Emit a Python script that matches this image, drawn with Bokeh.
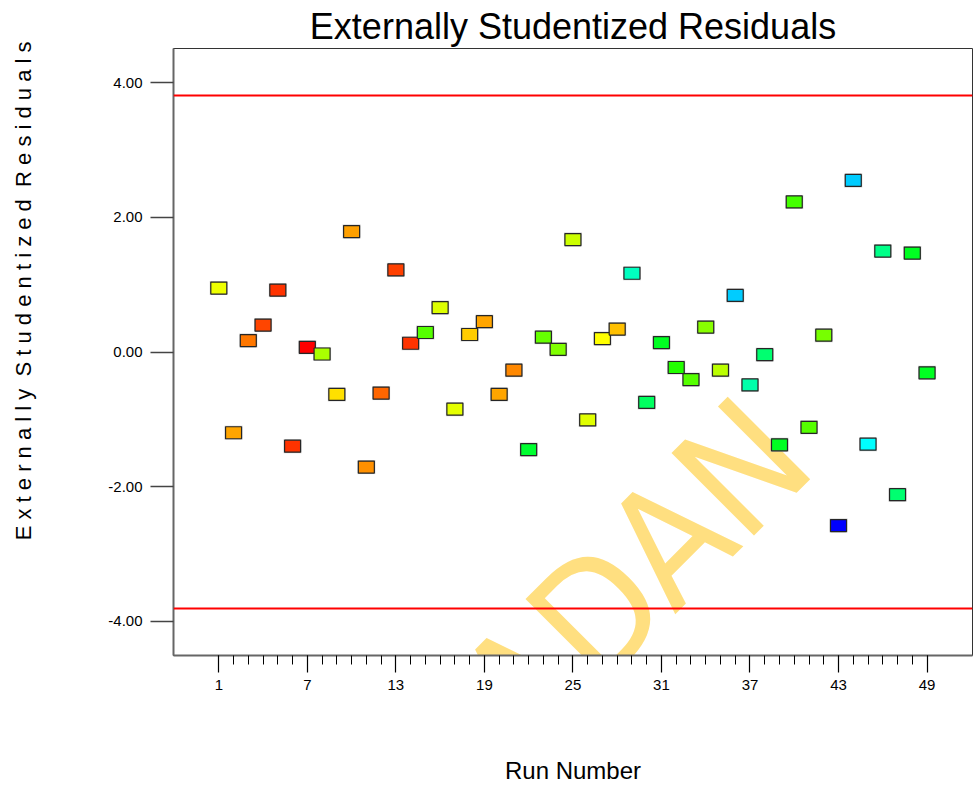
from bokeh.plotting import figure
from bokeh.models import Range1d, FixedTicker, PrintfTickFormatter, Span, Label, ColumnDataSource
from bokeh.embed import file_html
from bokeh.resources import INLINE

# Externally studentized residual for each run, in run order
runs = list(range(1, 50))
residuals = [
    0.95, -1.20, 0.17, 0.40, 0.92, -1.40, 0.07, -0.03, -0.63, 1.79,
    -1.71, -0.61, 1.22, 0.13, 0.29, 0.66, -0.85, 0.26, 0.45, -0.63,
    -0.27, -1.45, 0.22, 0.04, 1.67, -1.01, 0.20, 0.34, 1.17, -0.75,
    0.14, -0.23, -0.41, 0.37, -0.27, 0.84, -0.49, -0.04, -1.38, 2.23,
    -1.12, 0.25, -2.58, 2.55, -1.37, 1.50, -2.12, 1.47, -0.31,
]
point_colors = [
    "#eeff00", "#ffa500", "#ff7700", "#ff4500", "#ff3300", "#ff3300", "#ff0000", "#aaff00", "#ffe000", "#ffa000",
    "#ff9000", "#ff6600", "#ff4000", "#ff3300", "#55ff00", "#ddff00", "#e5ff00", "#ffcc00", "#ffa500", "#ffa500",
    "#ff8800", "#00ff30", "#66ff00", "#80ff00", "#ccff00", "#e0ff00", "#ffff00", "#ffc000", "#00ffc0", "#00ff60",
    "#00ff22", "#22ff00", "#55ff00", "#88ff00", "#bbff00", "#00ccff", "#00ffaa", "#00ff70", "#00ff22", "#44ff00",
    "#55ff00", "#77ff00", "#0000ff", "#00ccff", "#00ffff", "#00ff88", "#00ff70", "#00ff22", "#00ff22",
]
# outlier limits
control_limits = [3.81, -3.81]

x_major_ticks = [1, 7, 13, 19, 25, 31, 37, 43, 49]
x_minor_ticks = list(range(1, 50))
y_ticks = [-4, -2, 0, 2, 4]

FONT = "Liberation Sans"
NBSP = "\u00a0"


def spaced(words):
    # letter-spaced title: one space between letters, a wider gap between words
    return (" " + NBSP).join(" ".join(w) for w in words)


# leading no-break spaces lift the vertical title above the frame's middle
y_title = NBSP * 20 + spaced(["Externally", "Studentized", "Residuals"])

src = ColumnDataSource(dict(run=runs, resid=residuals, color=point_colors))

p = figure(
    width=978, height=789,
    output_backend="svg", toolbar_location=None,
    x_range=Range1d(-2.07, 52.08), y_range=Range1d(-4.51, 4.51),
    min_border_left=173, min_border_right=6,
    min_border_top=48, min_border_bottom=134,
    title="Externally Studentized Residuals",
)
p.title.align = "center"
p.title.text_font = FONT
p.title.text_font_size = "36px"
p.title.text_font_style = "normal"
p.title.text_color = "black"
p.title.standoff = 4

p.xgrid.visible = False
p.ygrid.visible = False
p.background_fill_color = "white"
p.border_fill_color = "white"
p.outline_line_color = "#333333"
p.outline_line_width = 1

# watermark under the data
p.add_layout(Label(
    x=39.1, y=-1.16, text="UNIVERSITY OF IBADAN", angle=0.785398,
    text_align="right", text_baseline="alphabetic",
    text_font="DejaVu Sans Condensed, Liberation Sans", text_font_size="160px",
    text_color="#ffdf80", level="underlay",
))

for lim in control_limits:
    p.add_layout(Span(location=lim, dimension="width", line_color="#ff0000", line_width=2))

# squares with a soft grey halo
p.rect(x="run", y="resid", width=18, height=14, width_units="screen", height_units="screen",
       source=src, fill_color="#b8b8b8", line_color=None, fill_alpha=0.7)
p.rect(x="run", y="resid", width=16, height=12, width_units="screen", height_units="screen",
       source=src, fill_color="color", line_color="#262626", line_width=1.2)

# axes
xa = p.xaxis[0]
xa.ticker = FixedTicker(ticks=x_major_ticks, minor_ticks=x_minor_ticks)
xa.major_tick_out = 17
xa.major_tick_in = 0
xa.minor_tick_out = 9
xa.minor_tick_in = 0
xa.major_tick_line_color = "black"
xa.minor_tick_line_color = "black"
xa.major_tick_line_width = 1.2
xa.minor_tick_line_width = 1
xa.axis_line_color = "#666666"
xa.axis_line_width = 2
xa.major_label_text_font = FONT
xa.major_label_text_font_size = "15px"
xa.major_label_text_color = "black"
xa.major_label_standoff = 7
xa.axis_label = "Run Number"
xa.axis_label_text_font = FONT
xa.axis_label_text_font_size = "24px"
xa.axis_label_text_font_style = "normal"
xa.axis_label_text_color = "black"
xa.axis_label_standoff = 64

ya = p.yaxis[0]
ya.ticker = FixedTicker(ticks=y_ticks, minor_ticks=[])
ya.formatter = PrintfTickFormatter(format="%.2f")
ya.major_tick_out = 23
ya.major_tick_in = 0
ya.minor_tick_line_color = None
ya.major_tick_line_color = "#444444"
ya.major_tick_line_width = 1.5
ya.axis_line_color = "#666666"
ya.axis_line_width = 2
ya.major_label_text_font = FONT
ya.major_label_text_font_size = "15px"
ya.major_label_text_color = "black"
ya.major_label_standoff = 8
ya.axis_label = y_title
ya.axis_label_text_font = FONT
ya.axis_label_text_font_size = "22px"
ya.axis_label_text_font_style = "normal"
ya.axis_label_text_color = "black"
ya.axis_label_standoff = 69

open("out.html", "w").write(file_html(p, INLINE))
